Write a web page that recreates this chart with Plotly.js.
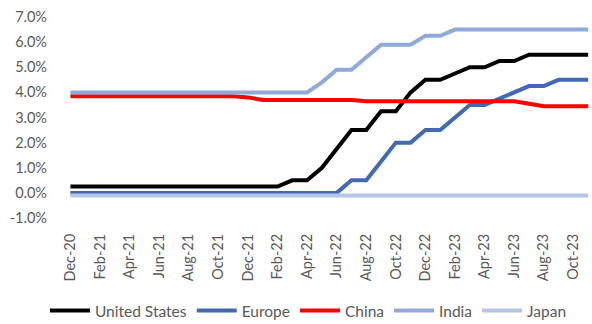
<!DOCTYPE html>
<html>
<head>
<meta charset="utf-8">
<script src="https://cdn.plot.ly/plotly-3.0.1.min.js"></script>
<style>
  html, body { margin: 0; padding: 0; background: #ffffff; }
  #chart { width: 592px; height: 324px; }
</style>
</head>
<body>
<div id="chart"></div>
<script>
var months = ["Dec-20","Jan-21","Feb-21","Mar-21","Apr-21","May-21","Jun-21","Jul-21","Aug-21","Sep-21","Oct-21","Nov-21",
              "Dec-21","Jan-22","Feb-22","Mar-22","Apr-22","May-22","Jun-22","Jul-22","Aug-22","Sep-22","Oct-22","Nov-22",
              "Dec-22","Jan-23","Feb-23","Mar-23","Apr-23","May-23","Jun-23","Jul-23","Aug-23","Sep-23","Oct-23","Nov-23"];

var unitedStates = [0.25,0.25,0.25,0.25,0.25,0.25,0.25,0.25,0.25,0.25,0.25,0.25,
                    0.25,0.25,0.25,0.5,0.5,1.0,1.75,2.5,2.5,3.25,3.25,4.0,
                    4.5,4.5,4.75,5.0,5.0,5.25,5.25,5.5,5.5,5.5,5.5,5.5];
var europe = [0,0,0,0,0,0,0,0,0,0,0,0,
              0,0,0,0,0,0,0,0.5,0.5,1.25,2.0,2.0,
              2.5,2.5,3.0,3.5,3.5,3.75,4.0,4.25,4.25,4.5,4.5,4.5];
var china = [3.85,3.85,3.85,3.85,3.85,3.85,3.85,3.85,3.85,3.85,3.85,3.85,
             3.80,3.70,3.70,3.70,3.70,3.70,3.70,3.70,3.65,3.65,3.65,3.65,
             3.65,3.65,3.65,3.65,3.65,3.65,3.65,3.55,3.45,3.45,3.45,3.45];
var india = [4.0,4.0,4.0,4.0,4.0,4.0,4.0,4.0,4.0,4.0,4.0,4.0,
             4.0,4.0,4.0,4.0,4.0,4.4,4.9,4.9,5.4,5.9,5.9,5.9,
             6.25,6.25,6.5,6.5,6.5,6.5,6.5,6.5,6.5,6.5,6.5,6.5];
var japan = [-0.1,-0.1,-0.1,-0.1,-0.1,-0.1,-0.1,-0.1,-0.1,-0.1,-0.1,-0.1,
             -0.1,-0.1,-0.1,-0.1,-0.1,-0.1,-0.1,-0.1,-0.1,-0.1,-0.1,-0.1,
             -0.1,-0.1,-0.1,-0.1,-0.1,-0.1,-0.1,-0.1,-0.1,-0.1,-0.1,-0.1];

var seriesNames = ["United States","Europe","China","India","Japan"];
var seriesColors = ["#000000","#4169B4","#FF0000","#8FA9DA","#B6C6E6"];
var yTicks = [-1,0,1,2,3,4,5,6,7];
var xTickLabels = months.filter(function (m, i) { return i % 2 === 0; });

var seriesValues = [unitedStates, europe, china, india, japan];
var traces = seriesValues.map(function (vals, k) {
  return {
    type: "scatter",
    mode: "lines",
    name: seriesNames[k],
    x: months,
    y: vals,
    line: { color: seriesColors[k], width: 4, shape: "linear" },
    hoverinfo: "x+y+name"
  };
});

var yRange = [yTicks[0], yTicks[yTicks.length - 1]];
var xRange = [-0.5, months.length - 0.74];
var boundaries = months.map(function (m, i) { return i - 0.5; }).filter(function (v, i) { return i % 2 === 0; });
boundaries.push(months.length - 0.5);

var tickFont = { family: "Lato, 'Open Sans', sans-serif", size: 14.5, color: "#595959" };

var layout = {
  width: 592,
  height: 324,
  margin: { l: 63, r: 0, t: 17, b: 106, pad: 0 },
  paper_bgcolor: "#ffffff",
  plot_bgcolor: "#ffffff",
  showlegend: true,
  xaxis: {
    type: "category",
    categoryorder: "array",
    categoryarray: months,
    range: xRange,
    tickmode: "array",
    tickvals: xTickLabels,
    ticktext: xTickLabels,
    tickangle: -90,
    ticks: "",
    showline: false,
    showgrid: false,
    zeroline: false,
    tickfont: tickFont,
    ticklabelstandoff: 12,
    fixedrange: true
  },
  xaxis2: {
    overlaying: "x",
    anchor: "free",
    position: (0 - yRange[0]) / (yRange[1] - yRange[0]),
    type: "linear",
    range: xRange,
    tickmode: "array",
    tickvals: boundaries,
    showticklabels: false,
    ticks: "outside",
    ticklen: 6,
    tickwidth: 1,
    tickcolor: "#D9D9D9",
    showline: true,
    linecolor: "#D9D9D9",
    linewidth: 1,
    showgrid: false,
    zeroline: false,
    fixedrange: true
  },
  yaxis: {
    range: yRange,
    tickmode: "array",
    tickvals: yTicks,
    ticktext: yTicks.map(function (v) { return v.toFixed(1) + "%"; }),
    ticks: "",
    showline: false,
    showgrid: false,
    zeroline: false,
    tickfont: tickFont,
    ticklabelstandoff: 15,
    fixedrange: true
  },
  legend: {
    orientation: "h",
    xref: "container",
    yref: "container",
    x: 0.521,
    xanchor: "center",
    y: 13 / 324,
    yanchor: "middle",
    font: { family: "Lato, 'Open Sans', sans-serif", size: 15.5, color: "#595959" },
    itemwidth: 40,
    bgcolor: "rgba(0,0,0,0)"
  }
};

Plotly.newPlot("chart", traces, layout, { displayModeBar: false, staticPlot: true });
</script>
</body>
</html>
